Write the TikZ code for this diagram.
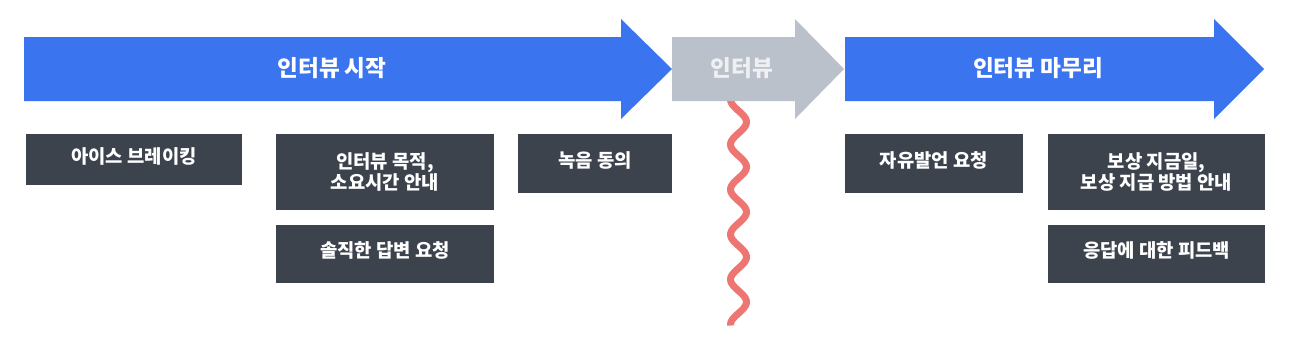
\documentclass[tikz,border=0pt]{standalone}
\usepackage{fontspec}
\setmainfont{Noto Sans CJK KR}
\usetikzlibrary{positioning}
\definecolor{phaseblue}{RGB}{58,116,238}
\definecolor{phasegray}{RGB}{187,193,202}
\definecolor{phasetext}{RGB}{238,240,243}
\definecolor{taskgray}{RGB}{60,67,77}
\definecolor{wavered}{RGB}{238,118,114}
\tikzset{
  ptitle/.style={font=\fontsize{22.6}{25}\selectfont\bfseries,text=white,inner sep=0pt},
  task/.style={fill=taskgray,text=white,inner sep=0pt,outer sep=0pt,
               font=\fontsize{18.8}{20.5}\selectfont\bfseries,align=center,
               minimum height=59pt},
  wave/.style={wavered,line width=7pt},
}

\begin{document}
\begin{tikzpicture}[x=1pt,y=-1pt,node distance=15pt and 34pt]
  \useasboundingbox (0,0) rectangle (1290,341);
  %% Wave (behind the middle arrow)
  \draw[wave] plot[domain=99.5:325.5,samples=121,smooth]
        ({738.5-8*cos(8*(\x-99.5))},\x);
  %% Phase arrows
  \fill[phaseblue] (24,37) -- (621,37) -- (621,19) -- (672,69)
                   -- (621,119) -- (621,101) -- (24,101) -- cycle;
  \fill[phasegray] (672,37) -- (795,37) -- (795,19) -- (844,69)
                   -- (795,119) -- (795,101) -- (672,101) -- cycle;
  \fill[phaseblue] (845,37) -- (1214,37) -- (1214,19) -- (1264,69)
                   -- (1214,119) -- (1214,101) -- (845,101) -- cycle;
  \node[ptitle]                  (start)  at (332,68)  {인터뷰 시작};
  \node[ptitle,text=phasetext]   (talk)   at (742,68)  {인터뷰};
  \node[ptitle]                  (finish) at (1038,68) {인터뷰 마무리};

  %% Row 1
  \node[task,anchor=north west,minimum width=216pt,minimum height=51pt,text depth=8pt]
                                   (ice)     at (26,134)  {아이스 브레이킹};
  \node[task,anchor=north west,minimum width=218pt,minimum height=76pt]
                                   (purpose) at (276,134) {인터뷰 목적,\\소요시간 안내};
  \node[task,anchor=north west,minimum width=154pt,text depth=8pt]
                                   (record)  at (518,134) {녹음 동의};
  \node[task,anchor=north west,minimum width=178pt,text depth=8pt]
                                   (free)    at (845,134) {자유발언 요청};
  \node[task,anchor=north west,minimum width=217pt,minimum height=76pt]
                                   (reward)  at (1048,134) {보상 지금일,\\보상 지급 방법 안내};
  %% Row 2
  \node[task,minimum width=218pt,minimum height=58pt,text depth=8pt,below=of purpose]
                                   (honest)  {솔직한 답변 요청};
  \node[task,minimum width=217pt,minimum height=58pt,text depth=8pt,below=of reward]
                                   (feedback) {응답에 대한 피드백};
\end{tikzpicture}
\end{document}
